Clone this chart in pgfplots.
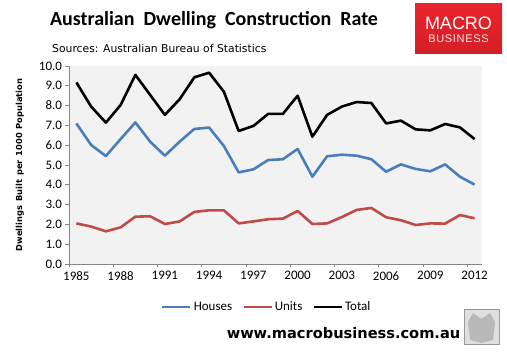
\documentclass[border=0pt]{standalone}
\usepackage{fontspec}
\setmainfont{Carlito}
\newfontfamily\tahoma{DejaVu Sans}
\newfontfamily\logofont{Liberation Sans}
\usepackage{pgfplots}
\usepackage{pgfplotstable}
\pgfplotsset{compat=1.18}
\definecolor{houses}{HTML}{4A7EBB}
\definecolor{units}{HTML}{BE4B48}
\definecolor{plotbg}{HTML}{F2F2F2}
\definecolor{axisgray}{HTML}{868686}
\definecolor{logored}{HTML}{E8232B}
\definecolor{logored2}{HTML}{D41F26}

\pgfplotstableread{
i year houses units total
0  1985 7.10 2.05 9.17
1  1986 6.01 1.89 7.95
2  1987 5.45 1.65 7.14
3  1988 6.31 1.85 8.03
4  1989 7.15 2.39 9.55
5  1990 6.18 2.41 8.54
6  1991 5.47 2.02 7.53
7  1992 6.18 2.15 8.32
8  1993 6.82 2.63 9.43
9  1994 6.89 2.71 9.66
10 1995 5.96 2.71 8.70
11 1996 4.63 2.05 6.72
12 1997 4.78 2.15 6.97
13 1998 5.25 2.26 7.58
14 1999 5.29 2.29 7.58
15 2000 5.81 2.68 8.50
16 2001 4.41 2.02 6.43
17 2002 5.44 2.05 7.53
18 2003 5.52 2.37 7.95
19 2004 5.47 2.73 8.18
20 2005 5.29 2.83 8.13
21 2006 4.66 2.36 7.10
22 2007 5.03 2.21 7.24
23 2008 4.80 1.97 6.80
24 2009 4.68 2.05 6.75
25 2010 5.03 2.04 7.07
26 2011 4.41 2.47 6.90
27 2012 4.01 2.31 6.31
}\dwell

\begin{document}
\begin{tikzpicture}[x=1pt,y=1pt]
\path[use as bounding box, fill=white] (0,0) rectangle (507,352);
\begin{axis}[
  at={(69pt,88pt)}, anchor=south west,
  scale only axis, width=413pt, height=198pt,
  xmin=-0.5, xmax=27.5, ymin=0, ymax=10,
  axis background/.style={fill=plotbg},
  axis x line*=bottom, axis y line*=left,
  axis line style={draw=axisgray, line width=0.8pt},
  separate axis lines,
  every outer x axis line/.append style={-},
  every outer y axis line/.append style={-},
  tick align=outside,
  major tick length=3.5pt,
  tick style={draw=axisgray, line width=0.8pt},
  xtick={-0.5,2.5,...,26.5}, xticklabels={},
  extra x ticks={0,3,...,27},
  extra x tick labels={1985,1988,1991,1994,1997,2000,2003,2006,2009,2012},
  extra x tick style={major tick length=0pt, tick style={draw=none}},
  ytick={0,1,...,10},
  yticklabel style={/pgf/number format/fixed, /pgf/number format/fixed zerofill, /pgf/number format/precision=1},
  /pgf/number format/assume math mode=true,
  ticklabel style={font=\fontsize{13}{13}\selectfont, text=black},
  xticklabel style={yshift=-4pt},
  ylabel={Dwellings\hspace{4pt}Built\hspace{4pt}per\hspace{4pt}1000\hspace{4pt}Population},
  ylabel style={at={(axis description cs:-0.119,0.5)}, anchor=center,
    font=\tahoma\bfseries\fontsize{8.3}{9}\selectfont},
  legend columns=3,
  legend style={at={(axis description cs:0.479,-0.217)}, anchor=center,
    draw=none, fill=none, font=\fontsize{13}{13}\selectfont,
    /tikz/every even column/.append style={column sep=8pt},
    inner sep=0pt},
  legend image code/.code={\draw[#1] (0pt,0pt) -- (28pt,0pt);},
]
\addplot[houses, line width=2.6pt, line join=round] table[x=i, y=houses] {\dwell};
\addlegendentry{Houses}
\addplot[units, line width=2.6pt, line join=round] table[x=i, y=units] {\dwell};
\addlegendentry{Units}
\addplot[black, line width=2.6pt, line join=round] table[x=i, y=total] {\dwell};
\addlegendentry{Total}
\end{axis}
% title and subtitle
\node[anchor=center, font=\bfseries\fontsize{20}{20}\selectfont] at (214,332) {Australian\ \ Dwelling\ \ Construction\ \ Rate};
\node[anchor=west, inner sep=0pt, font=\tahoma\fontsize{10.8}{11}\selectfont] at (52,304) {Sources: Australian Bureau of Statistics};
% logo
\shade[top color=logored, bottom color=logored2] (415,298) rectangle (502,348);
\node[text=white, inner sep=0pt, font=\logofont\fontsize{18}{18}\selectfont] at (458.5,329) {MACRO};
\node[text=white!92!red, inner sep=0pt, font=\logofont\fontsize{11}{11}\selectfont\addfontfeatures{LetterSpace=6}] at (458.5,313) {BUSINESS};
% url
\node[anchor=center, inner sep=0pt, font=\tahoma\bfseries\fontsize{14.6}{15}\selectfont] at (343.5,19) {www.macrobusiness.com.au};
% wolf picture placeholder
\draw[draw=gray!80, line width=1pt, fill=gray!25] (464,7) rectangle (499,42);
\fill[gray!55] (470,12) -- (481.5,9) -- (493,12) -- (495,30) -- (490,39) -- (481.5,33) -- (473,39) -- (468,30) -- cycle;
\end{tikzpicture}
\end{document}
